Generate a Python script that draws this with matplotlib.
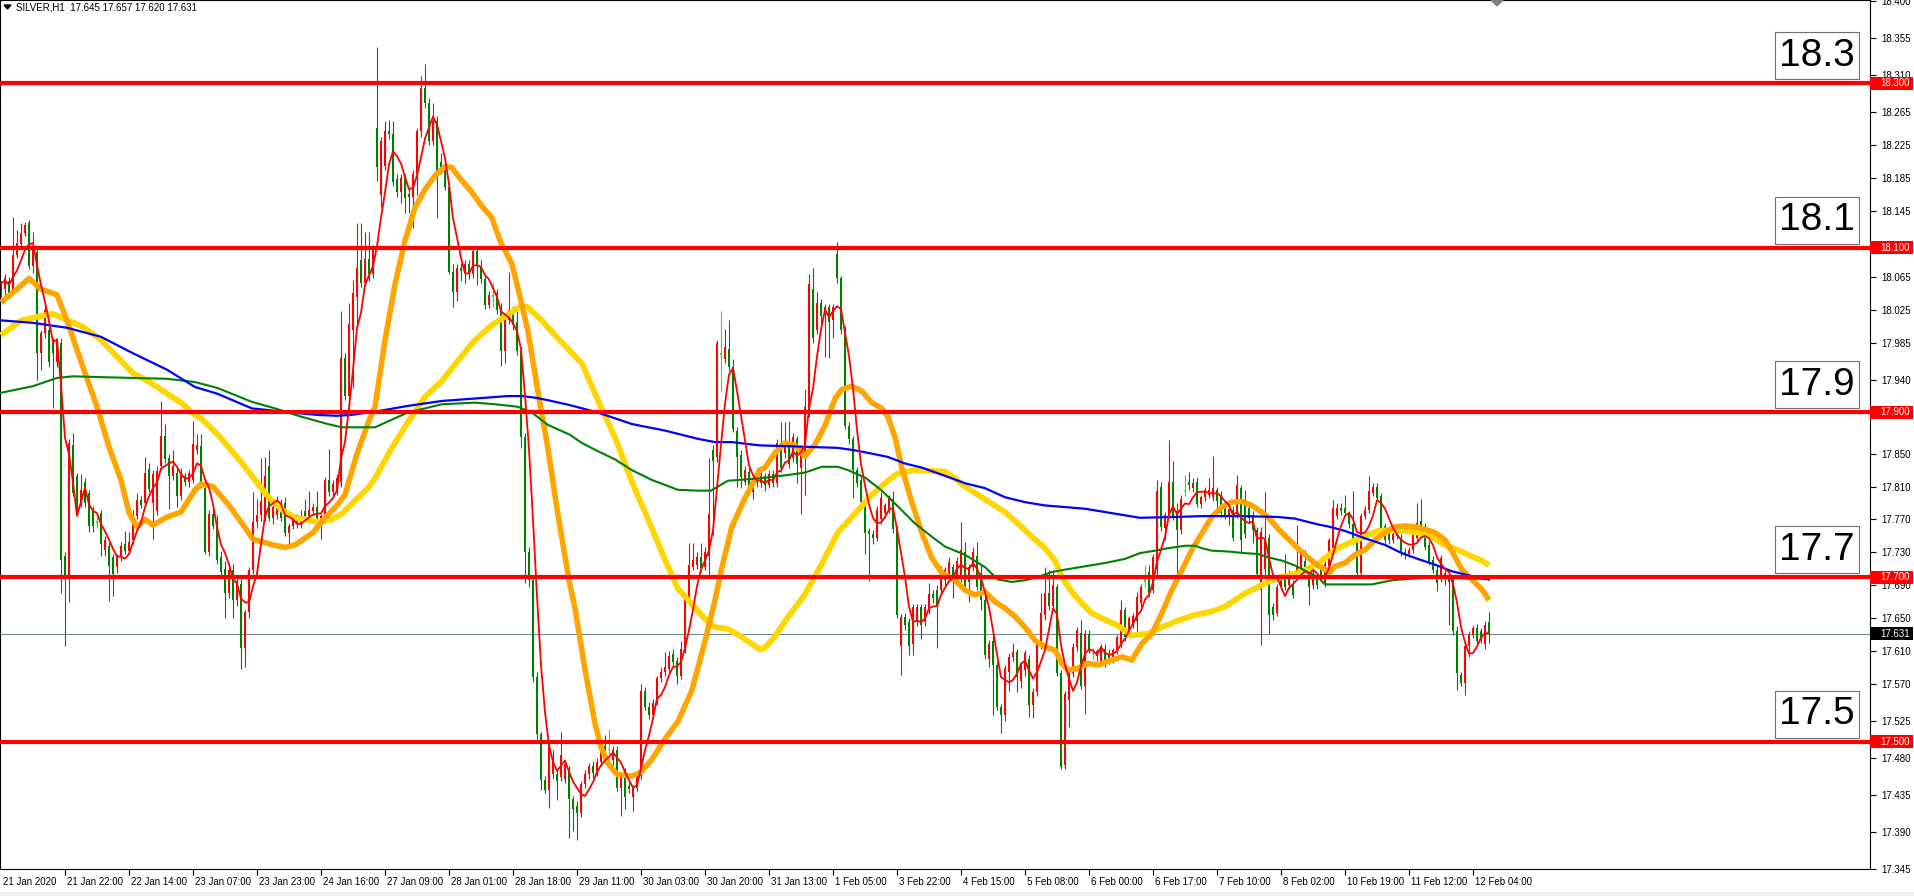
import numpy as np
import pandas as pd
import matplotlib
matplotlib.use("Agg")
import matplotlib.pyplot as plt
from matplotlib.patches import Rectangle, Polygon
from matplotlib.transforms import blended_transform_factory

plt.rcParams['font.family'] = ['Liberation Sans', 'DejaVu Sans']

# SILVER H1 candles, one value per bar (bar 0 = 21 Jan 2020)
opens = [
    18.045, 18.05, 18.06, 18.048, 18.092, 18.105, 18.118, 18.13, 18.078, 18.095,
    17.972, 17.997, 18.0, 17.985, 17.962, 17.985, 17.725, 17.701, 17.861, 17.823,
    17.79, 17.815, 17.802, 17.782, 17.766, 17.778, 17.733, 17.738, 17.724, 17.712,
    17.724, 17.74, 17.732, 17.745, 17.774, 17.794, 17.79, 17.831, 17.79, 17.78,
    17.835, 17.871, 17.845, 17.823, 17.827, 17.798, 17.823, 17.815, 17.818, 17.855,
    17.859, 17.808, 17.731, 17.777, 17.768, 17.724, 17.71, 17.68, 17.708, 17.672,
    17.692, 17.614, 17.657, 17.708, 17.767, 17.775, 17.772, 17.835, 17.772, 17.775,
    17.79, 17.79, 17.754, 17.762, 17.77, 17.765, 17.78, 17.774, 17.78, 17.785,
    17.77, 17.774, 17.818, 17.803, 17.805, 17.815, 17.966, 17.92, 18.0, 18.04,
    18.085, 18.058, 18.087, 18.068, 18.246, 18.165, 18.2, 18.242, 18.238, 18.184,
    18.168, 18.185, 18.166, 18.162, 18.19, 18.242, 18.295, 18.276, 18.23, 18.255,
    18.205, 18.2, 18.174, 18.071, 18.047, 18.076, 18.072, 18.081, 18.068, 18.096,
    18.078, 18.062, 18.031, 18.042, 18.045, 18.025, 17.975, 18.012, 18.025, 18.01,
    17.975, 17.87, 17.73, 17.696, 17.578, 17.509, 17.453, 17.441, 17.46, 17.46,
    17.457, 17.455, 17.465, 17.43, 17.422, 17.413, 17.448, 17.46, 17.47, 17.462,
    17.475, 17.495, 17.49, 17.477, 17.49, 17.443, 17.463, 17.446, 17.432, 17.443,
    17.458, 17.562, 17.542, 17.532, 17.547, 17.577, 17.585, 17.588, 17.606, 17.598,
    17.58, 17.612, 17.674, 17.712, 17.715, 17.724, 17.712, 17.725, 17.855, 17.846,
    17.972, 17.965, 17.977, 17.955, 17.878, 17.848, 17.816, 17.828, 17.803, 17.826,
    17.814, 17.823, 17.812, 17.825, 17.814, 17.863, 17.851, 17.865, 17.845, 17.868,
    17.833, 17.851, 17.9, 18.05, 18.0, 18.033, 18.018, 18.028, 18.012, 18.093,
    18.063, 18.0, 17.884, 17.868, 17.83, 17.818, 17.791, 17.756, 17.752, 17.748,
    17.77, 17.778, 17.782, 17.795, 17.758, 17.616, 17.651, 17.645, 17.619, 17.645,
    17.663, 17.645, 17.66, 17.679, 17.684, 17.684, 17.696, 17.703, 17.712, 17.7,
    17.7, 17.73, 17.694, 17.712, 17.725, 17.705, 17.672, 17.6, 17.622, 17.593,
    17.542, 17.532, 17.584, 17.603, 17.609, 17.574, 17.587, 17.6, 17.544, 17.56,
    17.619, 17.654, 17.68, 17.665, 17.688, 17.583, 17.471, 17.55, 17.583, 17.615,
    17.632, 17.568, 17.631, 17.608, 17.604, 17.598, 17.612, 17.606, 17.6, 17.611,
    17.62, 17.66, 17.632, 17.642, 17.647, 17.668, 17.694, 17.706, 17.684, 17.71,
    17.81, 17.76, 17.776, 17.816, 17.78, 17.757, 17.804, 17.816, 17.808, 17.816,
    17.789, 17.797, 17.8, 17.797, 17.806, 17.798, 17.783, 17.775, 17.782, 17.777,
    17.808, 17.79, 17.784, 17.775, 17.757, 17.684, 17.71, 17.747, 17.664, 17.656,
    17.688, 17.7, 17.69, 17.692, 17.702, 17.71, 17.72, 17.7, 17.69, 17.7,
    17.708, 17.692, 17.713, 17.735, 17.774, 17.784, 17.784, 17.776, 17.765, 17.745,
    17.705, 17.774, 17.782, 17.802, 17.81, 17.798, 17.762, 17.752, 17.745, 17.75,
    17.748, 17.731, 17.728, 17.733, 17.748, 17.768, 17.762, 17.739, 17.721, 17.709,
    17.698, 17.7, 17.694, 17.698, 17.634, 17.581, 17.571, 17.616, 17.63, 17.638,
    17.634, 17.618, 17.645,
]
highs = [
    18.06, 18.068, 18.065, 18.138, 18.122, 18.13, 18.132, 18.134, 18.12, 18.1,
    18.0, 18.03, 18.005, 17.99, 17.99, 17.99, 17.73, 17.868, 17.875, 17.827,
    17.825, 17.82, 17.806, 17.786, 17.775, 17.782, 17.75, 17.742, 17.728, 17.728,
    17.742, 17.756, 17.755, 17.782, 17.802, 17.798, 17.846, 17.839, 17.83, 17.835,
    17.914, 17.886, 17.849, 17.855, 17.832, 17.832, 17.827, 17.83, 17.89, 17.874,
    17.874, 17.812, 17.782, 17.785, 17.775, 17.732, 17.72, 17.712, 17.716, 17.70,
    17.698, 17.66, 17.712, 17.803, 17.795, 17.845, 17.846, 17.855, 17.79, 17.798,
    17.795, 17.797, 17.766, 17.774, 17.776, 17.782, 17.795, 17.805, 17.79, 17.805,
    17.777, 17.822, 17.856, 17.818, 17.825, 18.023, 17.972, 18.033, 18.061, 18.13,
    18.13, 18.12, 18.12, 18.104, 18.344, 18.235, 18.255, 18.256, 18.255, 18.19,
    18.19, 18.19, 18.172, 18.195, 18.246, 18.309, 18.324, 18.282, 18.276, 18.26,
    18.215, 18.206, 18.18, 18.08, 18.08, 18.082, 18.086, 18.086, 18.1, 18.1,
    18.085, 18.066, 18.048, 18.059, 18.05, 18.033, 18.016, 18.071, 18.03, 18.031,
    17.98, 17.875, 17.736, 17.702, 17.585, 17.512, 17.458, 17.5, 17.49, 17.465,
    17.512, 17.478, 17.47, 17.434, 17.428, 17.452, 17.465, 17.474, 17.476, 17.48,
    17.503, 17.508, 17.515, 17.494, 17.494, 17.462, 17.468, 17.452, 17.447, 17.462,
    17.57, 17.566, 17.548, 17.552, 17.58, 17.59, 17.609, 17.61, 17.612, 17.603,
    17.622, 17.678, 17.741, 17.741, 17.73, 17.741, 17.736, 17.845, 17.86, 17.988,
    18.024, 18.002, 18.012, 17.965, 17.882, 17.855, 17.835, 17.833, 17.822, 17.832,
    17.828, 17.827, 17.83, 17.83, 17.868, 17.889, 17.889, 17.89, 17.875, 17.872,
    17.858, 17.928, 18.068, 18.076, 18.047, 18.038, 18.032, 18.032, 18.032, 18.107,
    18.066, 18.005, 17.888, 17.872, 17.834, 17.824, 17.795, 17.76, 17.757, 17.786,
    17.803, 17.79, 17.8, 17.805, 17.762, 17.655, 17.656, 17.65, 17.667, 17.667,
    17.667, 17.667, 17.693, 17.684, 17.69, 17.713, 17.712, 17.724, 17.716, 17.724,
    17.767, 17.742, 17.716, 17.737, 17.743, 17.716, 17.678, 17.623, 17.63, 17.597,
    17.546, 17.593, 17.607, 17.62, 17.613, 17.597, 17.611, 17.605, 17.565, 17.623,
    17.68, 17.712, 17.708, 17.708, 17.692, 17.587, 17.562, 17.587, 17.62, 17.639,
    17.648, 17.635, 17.636, 17.614, 17.612, 17.618, 17.618, 17.612, 17.614, 17.63,
    17.672, 17.664, 17.653, 17.656, 17.682, 17.692, 17.714, 17.714, 17.728, 17.818,
    17.816, 17.779, 17.867, 17.841, 17.79, 17.8, 17.824, 17.828, 17.82, 17.822,
    17.8, 17.81, 17.82, 17.847, 17.81, 17.804, 17.787, 17.787, 17.786, 17.824,
    17.812, 17.806, 17.79, 17.78, 17.761, 17.761, 17.803, 17.752, 17.668, 17.692,
    17.704, 17.728, 17.708, 17.696, 17.763, 17.735, 17.733, 17.704, 17.708, 17.705,
    17.712, 17.72, 17.748, 17.794, 17.79, 17.79, 17.8, 17.78, 17.804, 17.75,
    17.778, 17.786, 17.823, 17.814, 17.814, 17.802, 17.766, 17.756, 17.756, 17.76,
    17.752, 17.735, 17.737, 17.756, 17.79, 17.795, 17.766, 17.744, 17.725, 17.713,
    17.727, 17.71, 17.705, 17.702, 17.64, 17.585, 17.62, 17.634, 17.642, 17.643,
    17.638, 17.646, 17.657,
]
lows = [
    18.04, 18.042, 18.04, 18.045, 18.088, 18.1, 18.114, 18.075, 18.07, 17.94,
    17.952, 17.99, 17.955, 17.906, 17.955, 17.681, 17.616, 17.67, 17.798, 17.775,
    17.785, 17.785, 17.755, 17.755, 17.76, 17.725, 17.725, 17.671, 17.677, 17.705,
    17.72, 17.728, 17.728, 17.74, 17.77, 17.784, 17.786, 17.803, 17.746, 17.775,
    17.83, 17.838, 17.783, 17.818, 17.785, 17.794, 17.811, 17.81, 17.814, 17.85,
    17.808, 17.728, 17.726, 17.758, 17.716, 17.7, 17.65, 17.675, 17.65, 17.665,
    17.588, 17.59, 17.65, 17.704, 17.76, 17.768, 17.768, 17.768, 17.765, 17.77,
    17.768, 17.75, 17.74, 17.758, 17.76, 17.76, 17.77, 17.77, 17.775, 17.768,
    17.746, 17.77, 17.798, 17.798, 17.8, 17.81, 17.915, 17.9, 17.93, 18.005,
    18.052, 18.054, 18.06, 18.064, 18.181, 18.15, 18.195, 18.232, 18.175, 18.162,
    18.155, 18.143, 18.143, 18.124, 18.165, 18.235, 18.27, 18.225, 18.225, 18.137,
    18.19, 18.17, 18.068, 18.028, 18.035, 18.06, 18.058, 18.062, 18.063, 18.055,
    18.058, 18.026, 18.027, 18.028, 18.02, 17.957, 17.96, 18.008, 18.0, 17.97,
    17.857, 17.693, 17.688, 17.572, 17.503, 17.441, 17.438, 17.419, 17.455, 17.429,
    17.452, 17.45, 17.383, 17.391, 17.38, 17.408, 17.444, 17.455, 17.456, 17.458,
    17.47, 17.486, 17.482, 17.472, 17.44, 17.41, 17.418, 17.438, 17.415, 17.44,
    17.455, 17.538, 17.527, 17.528, 17.544, 17.572, 17.58, 17.584, 17.592, 17.57,
    17.576, 17.608, 17.67, 17.708, 17.71, 17.706, 17.708, 17.703, 17.751, 17.84,
    17.925, 17.96, 17.95, 17.876, 17.81, 17.808, 17.812, 17.8, 17.795, 17.81,
    17.81, 17.805, 17.808, 17.81, 17.81, 17.828, 17.845, 17.832, 17.84, 17.814,
    17.777, 17.8, 17.895, 17.985, 17.995, 18.0, 17.968, 17.966, 17.99, 18.058,
    17.995, 17.88, 17.862, 17.796, 17.81, 17.786, 17.728, 17.695, 17.74, 17.744,
    17.764, 17.772, 17.778, 17.754, 17.65, 17.581, 17.636, 17.605, 17.605, 17.64,
    17.625, 17.64, 17.655, 17.668, 17.614, 17.68, 17.69, 17.698, 17.674, 17.696,
    17.694, 17.684, 17.67, 17.707, 17.684, 17.66, 17.6, 17.59, 17.532, 17.538,
    17.51, 17.525, 17.562, 17.598, 17.56, 17.565, 17.58, 17.53, 17.528, 17.555,
    17.612, 17.648, 17.66, 17.66, 17.58, 17.467, 17.467, 17.518, 17.578, 17.61,
    17.564, 17.534, 17.608, 17.6, 17.598, 17.592, 17.59, 17.594, 17.596, 17.606,
    17.614, 17.622, 17.628, 17.638, 17.633, 17.664, 17.688, 17.676, 17.68, 17.7,
    17.756, 17.745, 17.772, 17.769, 17.705, 17.752, 17.798, 17.806, 17.803, 17.785,
    17.784, 17.792, 17.796, 17.793, 17.781, 17.773, 17.77, 17.763, 17.744, 17.772,
    17.73, 17.748, 17.766, 17.741, 17.7, 17.617, 17.7, 17.631, 17.648, 17.652,
    17.684, 17.684, 17.686, 17.674, 17.698, 17.705, 17.706, 17.666, 17.686, 17.686,
    17.696, 17.688, 17.708, 17.73, 17.77, 17.775, 17.774, 17.76, 17.74, 17.7,
    17.7, 17.77, 17.778, 17.798, 17.792, 17.756, 17.741, 17.74, 17.741, 17.746,
    17.725, 17.722, 17.724, 17.729, 17.744, 17.758, 17.733, 17.715, 17.705, 17.683,
    17.694, 17.69, 17.642, 17.63, 17.563, 17.568, 17.557, 17.603, 17.626, 17.618,
    17.62, 17.612, 17.62,
]
closes = [
    18.057, 18.064, 18.045, 18.092, 18.106, 18.118, 18.128, 18.078, 18.1, 17.972,
    17.997, 18.025, 17.962, 17.972, 17.988, 17.721, 17.703, 17.863, 17.802, 17.782,
    17.806, 17.79, 17.762, 17.762, 17.768, 17.74, 17.745, 17.713, 17.704, 17.724,
    17.738, 17.732, 17.742, 17.774, 17.794, 17.788, 17.827, 17.807, 17.825, 17.829,
    17.871, 17.843, 17.823, 17.835, 17.798, 17.827, 17.815, 17.827, 17.862, 17.86,
    17.813, 17.731, 17.777, 17.762, 17.721, 17.706, 17.68, 17.708, 17.672, 17.695,
    17.614, 17.657, 17.708, 17.767, 17.775, 17.793, 17.823, 17.772, 17.785, 17.793,
    17.772, 17.754, 17.762, 17.77, 17.765, 17.772, 17.774, 17.782, 17.785, 17.772,
    17.774, 17.818, 17.803, 17.813, 17.82, 17.966, 17.92, 18.007, 18.045, 18.076,
    18.058, 18.087, 18.068, 18.1, 18.198, 18.23, 18.242, 18.238, 18.18, 18.168,
    18.185, 18.161, 18.162, 18.19, 18.242, 18.295, 18.276, 18.23, 18.255, 18.193,
    18.196, 18.174, 18.071, 18.047, 18.076, 18.072, 18.081, 18.068, 18.096, 18.078,
    18.062, 18.031, 18.043, 18.041, 18.025, 17.975, 18.012, 18.025, 18.006, 17.975,
    17.87, 17.73, 17.696, 17.578, 17.509, 17.453, 17.441, 17.497, 17.478, 17.452,
    17.484, 17.473, 17.43, 17.418, 17.413, 17.448, 17.46, 17.47, 17.462, 17.475,
    17.488, 17.49, 17.491, 17.49, 17.443, 17.458, 17.433, 17.442, 17.443, 17.458,
    17.562, 17.542, 17.532, 17.547, 17.577, 17.585, 17.59, 17.604, 17.597, 17.58,
    17.612, 17.674, 17.714, 17.721, 17.724, 17.711, 17.731, 17.776, 17.841, 17.985,
    17.97, 17.98, 17.955, 17.88, 17.846, 17.821, 17.83, 17.803, 17.818, 17.814,
    17.823, 17.812, 17.825, 17.814, 17.863, 17.833, 17.861, 17.837, 17.87, 17.837,
    17.854, 17.907, 18.056, 17.991, 18.033, 18.017, 18.028, 18.01, 18.028, 18.063,
    18.0, 17.884, 17.868, 17.83, 17.814, 17.791, 17.754, 17.752, 17.748, 17.782,
    17.796, 17.787, 17.796, 17.758, 17.654, 17.651, 17.642, 17.616, 17.663, 17.663,
    17.642, 17.663, 17.679, 17.674, 17.665, 17.709, 17.708, 17.718, 17.696, 17.72,
    17.733, 17.688, 17.712, 17.731, 17.688, 17.672, 17.605, 17.619, 17.593, 17.542,
    17.532, 17.589, 17.603, 17.609, 17.579, 17.593, 17.607, 17.544, 17.56, 17.619,
    17.656, 17.68, 17.665, 17.69, 17.583, 17.469, 17.558, 17.583, 17.615, 17.635,
    17.568, 17.631, 17.612, 17.606, 17.61, 17.615, 17.597, 17.599, 17.611, 17.627,
    17.66, 17.627, 17.65, 17.652, 17.676, 17.688, 17.697, 17.68, 17.724, 17.804,
    17.761, 17.775, 17.816, 17.773, 17.757, 17.795, 17.806, 17.812, 17.814, 17.789,
    17.797, 17.806, 17.806, 17.808, 17.793, 17.778, 17.775, 17.783, 17.747, 17.812,
    17.745, 17.752, 17.772, 17.757, 17.704, 17.755, 17.745, 17.654, 17.654, 17.688,
    17.7, 17.688, 17.704, 17.678, 17.712, 17.73, 17.71, 17.688, 17.704, 17.69,
    17.7, 17.716, 17.745, 17.784, 17.784, 17.78, 17.778, 17.764, 17.745, 17.705,
    17.774, 17.782, 17.804, 17.81, 17.796, 17.76, 17.745, 17.745, 17.752, 17.756,
    17.729, 17.727, 17.733, 17.752, 17.766, 17.762, 17.737, 17.719, 17.709, 17.693,
    17.723, 17.705, 17.701, 17.634, 17.583, 17.571, 17.616, 17.63, 17.638, 17.622,
    17.626, 17.642, 17.631,
]
doji_bars = [24, 123, 152, 180, 273, 286, 296]

# moving averages (bar position, price)
orange_x = [0, 4, 7, 10, 14, 16.5, 20.5, 24, 27, 30,
            32, 34, 36, 38, 41.5, 45, 48.5, 50, 53, 57,
            60, 63, 68, 71, 73.5, 78, 81, 84, 86, 89,
            92, 93.5, 96, 98.5, 101, 103.5, 106, 108.5, 111, 112.7,
            115, 117.7, 120, 122.7, 125, 127.7, 129.3, 131.7, 134, 136.7,
            139, 142, 143.5, 146, 148.5, 150, 151.8, 154, 157.7, 160,
            162.7, 166, 169.3, 172.7, 176, 178.5, 180.2, 182.7, 186, 189.7,
            191, 193.5, 196, 198.5, 201, 203.5, 206, 208.5, 210.2, 212.7,
            215.2, 217.7, 220.2, 221.7, 223.5, 225.2, 227.7, 230.2, 232.7, 235.2,
            238.5, 241, 243.5, 246, 248.5, 251, 253.5, 256, 258.5, 261,
            263.5, 265.2, 266.7, 269.2, 271.7, 274.2, 277.7, 280.2, 282.7, 285.2,
            287.7, 290.2, 292.7, 295.2, 297.7, 300.2, 302.7, 305.2, 307.7, 310.2,
            312.7, 315.2, 316.7, 319.2, 321.7, 324.2, 326.7, 329.2, 332.2, 333.5,
            336, 338.5, 341, 343.5, 346, 348.5, 351, 353.5, 356, 358.5,
            361, 363, 365.2, 367.7, 370.2, 372]
orange_y = [18.034, 18.05, 18.063, 18.05, 18.043, 18.012, 17.955, 17.907, 17.858, 17.818,
            17.778, 17.761, 17.77, 17.763, 17.773, 17.779, 17.806, 17.813, 17.81, 17.787,
            17.767, 17.746, 17.739, 17.736, 17.739, 17.754, 17.772, 17.787, 17.80, 17.85,
            17.89, 17.907, 17.988, 18.056, 18.109, 18.149, 18.171, 18.188, 18.199, 18.198,
            18.183, 18.168, 18.152, 18.137, 18.106, 18.081, 18.05, 18.0, 17.932, 17.857,
            17.783, 17.696, 17.662, 17.587, 17.522, 17.493, 17.473, 17.46, 17.458, 17.463,
            17.478, 17.503, 17.525, 17.562, 17.622, 17.672, 17.711, 17.761, 17.796, 17.83,
            17.833, 17.851, 17.863, 17.86, 17.847, 17.861, 17.884, 17.917, 17.928, 17.932,
            17.926, 17.912, 17.905, 17.895, 17.87, 17.833, 17.791, 17.754, 17.723, 17.705,
            17.696, 17.684, 17.678, 17.682, 17.67, 17.662, 17.652, 17.639, 17.623, 17.615,
            17.611, 17.595, 17.587, 17.589, 17.595, 17.593, 17.599, 17.603, 17.599, 17.619,
            17.631, 17.656, 17.684, 17.708, 17.733, 17.753, 17.773, 17.785, 17.791, 17.792,
            17.787, 17.779, 17.773, 17.759, 17.747, 17.735, 17.724, 17.714, 17.706, 17.713,
            17.717, 17.727, 17.733, 17.745, 17.754, 17.761, 17.762, 17.761, 17.758, 17.754,
            17.745, 17.729, 17.709, 17.697, 17.685, 17.672]

yellow_x = [0, 5, 12.5, 14, 20.5, 25, 29, 33, 37.5, 41.5,
            45, 48.5, 50, 54, 58.5, 62.7, 66.7, 70.2, 73.5, 76,
            79.2, 82.7, 85.2, 88.5, 91.7, 93.5, 97.7, 101.7, 106, 110.2,
            114.2, 118.5, 122.7, 126.7, 130.2, 131.7, 135.2, 138.5, 142.2, 145.2,
            149.2, 153.5, 157.7, 161.7, 166, 169.2, 172.7, 176, 178.5, 181.7,
            185.2, 189.7, 191, 193.5, 196.7, 201, 205.2, 209.2, 213.5, 217.7,
            221.7, 224.2, 228.5, 232.7, 236, 238.5, 241, 244.2, 247.7, 251,
            254.2, 257.7, 261, 263.5, 265.2, 267.7, 270.2, 272.7, 276, 279.2,
            282.7, 286.7, 290.2, 294.2, 298.5, 302.7, 306, 308.5, 311, 313.5,
            316.7, 320.2, 323.5, 326.7, 329.2, 331, 334.2, 337.7, 341, 344.2,
            347.7, 351, 354.2, 357.7, 361, 364.2, 367.7, 370.2, 372]
yellow_y = [17.994, 18.012, 18.02, 18.018, 18.004, 17.988, 17.968, 17.948, 17.936, 17.923,
            17.912, 17.897, 17.893, 17.874, 17.849, 17.823, 17.798, 17.782, 17.772, 17.77,
            17.767, 17.77, 17.777, 17.793, 17.808, 17.82, 17.857, 17.888, 17.919, 17.938,
            17.963, 17.988, 18.006, 18.019, 18.03, 18.028, 18.012, 17.994, 17.975, 17.96,
            17.915, 17.87, 17.816, 17.771, 17.721, 17.686, 17.667, 17.649, 17.639, 17.637,
            17.627, 17.612, 17.614, 17.628, 17.651, 17.679, 17.716, 17.754, 17.777, 17.80,
            17.817, 17.826, 17.83, 17.829, 17.828, 17.82, 17.81, 17.80, 17.789, 17.779,
            17.765, 17.749, 17.735, 17.72, 17.70, 17.682, 17.668, 17.656, 17.648, 17.641,
            17.629, 17.631, 17.639, 17.647, 17.654, 17.658, 17.664, 17.672, 17.68, 17.686,
            17.694, 17.70, 17.704, 17.71, 17.716, 17.723, 17.735, 17.743, 17.749, 17.756,
            17.757, 17.756, 17.754, 17.749, 17.739, 17.733, 17.725, 17.72, 17.714]

blue_x = [0, 8, 16.5, 25, 33, 41.5, 48.5, 54, 62.7, 66.7,
          70.2, 79.2, 84, 87.5, 94.7, 101.7, 110.2, 118.5, 126.7, 130.2,
          133.5, 136.7, 142.2, 149.2, 157.7, 166, 174.2, 178.5, 182.7, 189.7,
          196.7, 209.2, 213.5, 217.7, 221.7, 226, 230.2, 236, 241, 246,
          251, 256, 261, 266, 271, 276, 281, 284.7, 293.5, 300.2,
          310.2, 319.2, 323.5, 326.7, 329.2, 332.2, 336, 341, 346, 350.2,
          354.2, 358.5, 362.7, 366, 369.5, 372]
blue_y = [18.012, 18.009, 18.003, 17.992, 17.972, 17.952, 17.931, 17.923, 17.905, 17.903,
          17.901, 17.897, 17.896, 17.897, 17.902, 17.908, 17.914, 17.917, 17.92, 17.92,
          17.918, 17.915, 17.909, 17.90, 17.886, 17.878, 17.868, 17.864, 17.864, 17.86,
          17.859, 17.857, 17.854, 17.85, 17.846, 17.838, 17.833, 17.823, 17.814, 17.808,
          17.797, 17.791, 17.787, 17.785, 17.783, 17.779, 17.775, 17.772, 17.773, 17.774,
          17.774, 17.773, 17.771, 17.767, 17.764, 17.761, 17.756, 17.747, 17.739, 17.729,
          17.722, 17.715, 17.707, 17.703, 17.699, 17.697]

green_x = [0, 8, 14, 18, 25, 33, 41.5, 48.5, 54, 62.7,
           68.5, 75, 81.7, 85.2, 90.2, 93.5, 101.7, 110.2, 118.5, 123.5,
           129.2, 132.7, 136.7, 142.2, 145.2, 149.2, 153.5, 157.7, 162.7, 169.2,
           174.2, 177.5, 181.7, 189.7, 196.7, 201, 205.2, 209.2, 211.7, 216,
           220.2, 224.2, 228.5, 232.7, 236, 241, 246, 249.2, 252.7, 256,
           259.2, 262.7, 266, 271, 276, 281, 284.7, 288.5, 291.7, 296,
           298.5, 300.2, 302.7, 306.8, 311, 314.3, 316.7, 320.2, 323.5, 326.7,
           329.2, 331, 337.7, 342.7, 347.7, 352.7, 356, 362.7, 367, 372]
green_y = [17.924, 17.932, 17.942, 17.944, 17.943, 17.942, 17.941, 17.937, 17.93, 17.913,
           17.905, 17.895, 17.886, 17.882, 17.882, 17.882, 17.90, 17.91, 17.912, 17.91,
           17.907, 17.90, 17.885, 17.873, 17.863, 17.853, 17.843, 17.83, 17.818, 17.806,
           17.805, 17.805, 17.817, 17.82, 17.824, 17.827, 17.834, 17.834, 17.83, 17.821,
           17.805, 17.786, 17.765, 17.749, 17.737, 17.727, 17.712, 17.697, 17.694, 17.696,
           17.70, 17.706, 17.709, 17.713, 17.717, 17.722, 17.729, 17.732, 17.735, 17.738,
           17.738, 17.735, 17.732, 17.731, 17.729, 17.728, 17.724, 17.72, 17.714, 17.706,
           17.70, 17.691, 17.691, 17.691, 17.696, 17.698, 17.699, 17.699, 17.698, 17.698]

levels = [18.3, 18.1, 17.9, 17.7, 17.5]
bid = 17.631
price_ticks = [18.400, 18.355, 18.310, 18.265, 18.225, 18.185, 18.145, 18.105, 18.065,
               18.025, 17.985, 17.940, 17.895, 17.850, 17.810, 17.770, 17.730, 17.690,
               17.650, 17.610, 17.570, 17.525, 17.480, 17.435, 17.390, 17.345]
# scale labels that sit right under a red level tag are hidden by it
hidden_ticks = [18.105, 17.895]
time_bars = [0, 16, 32, 48, 64, 80, 96, 112, 128, 144, 160, 176, 192, 208, 224, 240,
             256, 272, 288, 304, 320, 336, 352, 368]
time_labels = ["21 Jan 2020", "21 Jan 22:00", "22 Jan 14:00", "23 Jan 07:00", "23 Jan 23:00",
               "24 Jan 16:00", "27 Jan 09:00", "28 Jan 01:00", "28 Jan 18:00", "29 Jan 11:00",
               "30 Jan 03:00", "30 Jan 20:00", "31 Jan 13:00", "1 Feb 05:00", "3 Feb 22:00",
               "4 Feb 15:00", "5 Feb 08:00", "6 Feb 00:00", "6 Feb 17:00", "7 Feb 10:00",
               "8 Feb 02:00", "10 Feb 19:00", "11 Feb 12:00", "12 Feb 04:00"]

n = len(closes)
assert len(opens) == n and len(highs) == n and len(lows) == n, (len(opens), len(highs), len(lows), n)

W, H = 1915, 896
AX_R, AX_B = 1870, 869        # right / bottom edge of the plot area in pixels

fig = plt.figure(figsize=(W / 100, H / 100), dpi=100)
fig.patch.set_facecolor('white')
ax = fig.add_axes([0, (H - AX_B) / H, AX_R / W, AX_B / H])
ax.set_facecolor('white')
ax.set_xlim(-0.25, (AX_R - 1) / 4)
ax.set_ylim(17.345, 18.4015)
px = 1 / 822.5                # one pixel in price units

# bid line
ax.axhline(bid, color='#778899', lw=0.8, zorder=1)

# candles: red = up, green = down, lime = doji
x = np.arange(n)
o, h, l, c = (np.array(v) for v in (opens, highs, lows, closes))
cols = np.where(c > o, '#ff0000', '#008000').astype('<U7')
cols[doji_bars] = '#00ff00'
ax.vlines(x, l, h, colors=cols, lw=0.8, zorder=2)
ax.bar(x, np.maximum(np.abs(c - o), 1.2 * px), bottom=np.minimum(o, c), width=0.72,
       color=cols, lw=0, zorder=2)

# moving averages
ax.plot(yellow_x, yellow_y, color='#ffd700', lw=4.2, solid_capstyle='butt', zorder=3)
ax.plot(orange_x, orange_y, color='#ffa500', lw=4.0, solid_capstyle='butt', zorder=3)
ax.plot(green_x, green_y, color='#008000', lw=1.5, zorder=4)
ax.plot(blue_x, blue_y, color='#0000ff', lw=1.6, zorder=4)
fast = pd.Series(closes).rolling(5, min_periods=1).mean()
ax.plot(x, fast, color='#ff0000', lw=1.3, zorder=5)

# horizontal levels with their big labels
for lv in levels:
    ax.axhline(lv, color='#ff0000', lw=3, zorder=6)
    ax.add_patch(Rectangle((443.5, lv + 4 * px), 21, 47 * px, facecolor='white',
                           edgecolor='#707070', lw=0.8, zorder=7))
    ax.text(454, lv + 27.5 * px, f"{lv:.1f}", ha='center', va='center', fontsize=28,
            color='black', zorder=8)

# right price scale
ax.yaxis.tick_right()
ax.set_yticks(price_ticks)
ax.set_yticklabels(["" if v in hidden_ticks else f"{v:.3f}" for v in price_ticks], fontsize=7)
ax.tick_params(axis='y', length=4, width=0.8, pad=4, colors='black', direction='out')

yt = blended_transform_factory(ax.transAxes, ax.transData)
for lv in levels:
    ax.add_patch(Rectangle((1.0, lv - 6.5 * px), 43 / AX_R, 13 * px, transform=yt,
                           facecolor='#ff0000', edgecolor='none', clip_on=False, zorder=9))
    ax.text(1880 / AX_R, lv, f"{lv:.3f}", transform=yt, color='white', fontsize=7,
            ha='left', va='center', clip_on=False, zorder=10)
ax.add_patch(Rectangle((1.0, bid - 6.5 * px), 43 / AX_R, 13 * px, transform=yt,
                       facecolor='black', edgecolor='none', clip_on=False, zorder=9))
ax.text(1880 / AX_R, bid, f"{bid:.3f}", transform=yt, color='white', fontsize=7,
        ha='left', va='center', clip_on=False, zorder=10)

# time scale
ax.set_xticks(time_bars[1:])
ax.set_xticklabels([])
ax.tick_params(axis='x', length=4, width=0.8, direction='out', colors='black')
xt = blended_transform_factory(ax.transData, ax.transAxes)
for b, lab in zip(time_bars, time_labels):
    ax.text(b + 0.4, -13 / AX_B, lab, transform=xt, fontsize=7, ha='left', va='center',
            clip_on=False)

for s in ax.spines.values():
    s.set_color('black')
    s.set_linewidth(0.8)


def fpt(xp, yp):
    return (xp / W, 1 - yp / H)


# title in the top-left corner
fig.patches.append(Polygon([fpt(4, 5), fpt(11, 5), fpt(7.5, 9)], closed=True,
                           transform=fig.transFigure, color='black', zorder=5))
fig.text(16 / W, 1 - 7.5 / H, "SILVER,H1  17.645 17.657 17.620 17.631", fontsize=7,
         ha='left', va='center', color='black')

# chart shift marker
fig.patches.append(Polygon([fpt(1491, 0), fpt(1503, 0), fpt(1497, 6)], closed=True,
                           transform=fig.transFigure, color='#808080', zorder=5))

# strip at the very bottom
fig.patches.append(Rectangle(fpt(0, 896), 1, 4 / H, transform=fig.transFigure,
                             facecolor='#f0f0f0', edgecolor='none', zorder=0))

fig.savefig('out.png', dpi=100, facecolor='white')
